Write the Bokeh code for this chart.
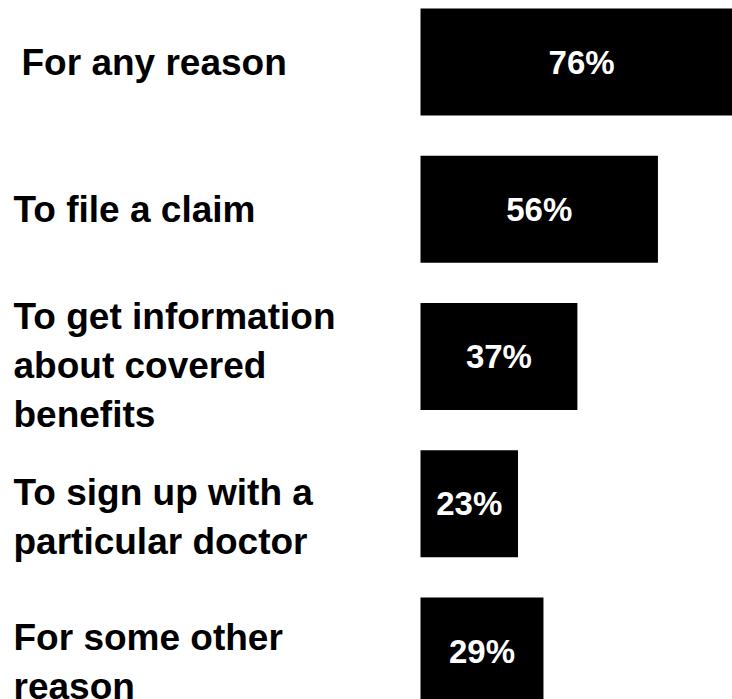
from bokeh.plotting import figure
from bokeh.models import ColumnDataSource, Range1d
from bokeh.core.properties import value
from bokeh.embed import file_html
from bokeh.resources import INLINE

# ---- data ----
categories = [
    "For any reason",
    "To file a claim",
    "To get information\nabout covered\nbenefits",
    "To sign up with a\nparticular doctor",
    "For some other\nreason",
]
percent = [76, 56, 37, 23, 29]
value_labels = [f"{v}%" for v in percent]

# ---- layout (pixels) ----
W, H = 732, 699
PX_PER_PCT = 4.24
ZERO_X = 420          # px from frame left where 0% sits
ROW_PITCH = 147.25    # px between bar centres
FIRST_ROW = 61.5      # px from frame top to first bar centre

x_start = -ZERO_X / PX_PER_PCT
x_end = x_start + W / PX_PER_PCT
y_top = -FIRST_ROW / ROW_PITCH
y_bottom = y_top + H / ROW_PITCH

idx = list(range(len(categories)))
label_dx = [21, 13, 13, 13, 13]
label_dy = [0, 0, 9, 13, 11]
label_dy = [0 if "\n" not in c else d for c, d in zip(categories, label_dy)]

src = ColumnDataSource(dict(
    y=idx,
    pct=percent,
    mid=[v / 2 for v in percent],
    lab=value_labels,
    cat=categories,
    lx=[x_start] * len(idx),
    dx=label_dx,
    dy=label_dy,
))

p = figure(width=W, height=H, output_backend="svg", toolbar_location=None,
           x_range=Range1d(x_start, x_end), y_range=Range1d(y_bottom, y_top),
           min_border=0, outline_line_color=None)
p.axis.visible = False
p.grid.visible = False
p.background_fill_color = "white"
p.border_fill_color = "white"

p.hbar(y="y", left=0, right="pct", height=107 / ROW_PITCH, source=src,
       fill_color="black", line_color=None)

p.text(x="mid", y="y", text="lab", source=src, text_color="white",
       text_font=value("Liberation Sans"), text_font_style="bold",
       text_font_size="33px", text_align="center", text_baseline="middle")

p.text(x="lx", y="y", text="cat", source=src, x_offset="dx", y_offset="dy",
       text_color="black", text_font=value("Liberation Sans"),
       text_font_style="bold", text_font_size="37px", text_align="left",
       text_baseline="middle", text_line_height=1.2)

open("out.html", "w").write(file_html(p, INLINE))
